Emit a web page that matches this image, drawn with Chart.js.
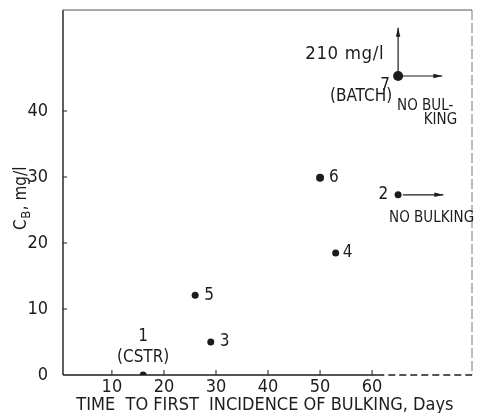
<!DOCTYPE html>
<html><head><meta charset="utf-8">
<script src="https://cdn.jsdelivr.net/npm/chart.js@4"></script>
<style>html,body{margin:0;padding:0;background:#fff}canvas{display:block}</style>
</head><body>
<canvas id="c" width="478" height="413"></canvas>
<script>
// ---- data ----
const runLabels = ['1', '2', '3', '4', '5', '6', '7'];
const days = [16, 65, 29, 53, 26, 50, 65];          // time to first incidence of bulking
const cbValues = [0, 27.3, 5, 18.5, 12.1, 29.9, 45.3]; // C_B, mg/l
const xTickValues = [10, 20, 30, 40, 50, 60];
const yTickValues = [0, 10, 20, 30, 40];
const arrow7Right = [{x: 65, y: 45.3}, {x: 73.5, y: 45.3}];
const arrow7Up = [{x: 65, y: 45.3}, {x: 65, y: 52.6}];
const arrow2Right = [{x: 65.9, y: 27.3}, {x: 73.7, y: 27.3}];
const noteTexts = {
  cstr: '(CSTR)', batch: '(BATCH)', conc7: '210 mg/l',
  noBulk2: 'NO BULKING', noBulk7a: 'NO BUL-', noBulk7b: 'KING'
};
const xTitle = 'TIME  TO FIRST  INCIDENCE OF BULKING, Days ';

const FONT = "'Liberation Sans Narrow', 'DejaVu Sans Condensed', sans-serif";
const INK = '#1c1c1c';

const points = days.map((d, i) => ({x: d, y: cbValues[i]}));

// label placement (pixel offsets from the point) – styling only
const labelStyle = [
  [{t: runLabels[0], dx: 0, dy: -38, a: 'center'}, {t: noteTexts.cstr, dx: 0, dy: -17, a: 'center'}],
  [{t: runLabels[1], dx: -10, dy: 0, a: 'right'}, {t: noteTexts.noBulk2, dx: -9, dy: 23, a: 'left', s: 15}],
  [{t: runLabels[2], dx: 9, dy: 0, a: 'left'}],
  [{t: runLabels[3], dx: 7, dy: 0, a: 'left'}],
  [{t: runLabels[4], dx: 9, dy: 0, a: 'left'}],
  [{t: runLabels[5], dx: 9, dy: 0, a: 'left'}],
  [{t: noteTexts.conc7, dx: -14, dy: -22, a: 'right', s: 18.5, ls: '0.6px'}, {t: runLabels[6], dx: -13, dy: 10, a: 'center'},
   {t: noteTexts.batch, dx: -6, dy: 21, a: 'right'}, {t: noteTexts.noBulk7a, dx: -1, dy: 30, a: 'left', s: 15},
   {t: noteTexts.noBulk7b, dx: 59, dy: 44, a: 'right', s: 15}]
];

const decor = {
  id: 'decor',
  afterDatasetsDraw(chart) {
    const {ctx, chartArea: ca, scales: {x, y}} = chart;
    ctx.save();
    ctx.strokeStyle = INK;
    // frame
    ctx.lineWidth = 1.4;
    ctx.beginPath(); ctx.moveTo(ca.left, ca.top); ctx.lineTo(ca.left, ca.bottom); ctx.stroke();
    const x60 = x.getPixelForValue(61);
    ctx.beginPath(); ctx.moveTo(ca.left, ca.bottom); ctx.lineTo(x60, ca.bottom); ctx.stroke();
    ctx.setLineDash([7, 4]);
    ctx.beginPath(); ctx.moveTo(x60, ca.bottom); ctx.lineTo(ca.right, ca.bottom); ctx.stroke();
    ctx.lineWidth = 0.8; ctx.strokeStyle = '#555';
    ctx.setLineDash([10, 3]);
    ctx.beginPath(); ctx.moveTo(ca.right, ca.top); ctx.lineTo(ca.right, ca.bottom); ctx.stroke();
    ctx.setLineDash([]);
    ctx.lineWidth = 1;
    ctx.beginPath(); ctx.moveTo(ca.left, ca.top); ctx.lineTo(ca.right, ca.top); ctx.stroke();
    // inside ticks
    ctx.strokeStyle = INK; ctx.lineWidth = 1;
    xTickValues.forEach(v => {
      const px = x.getPixelForValue(v);
      ctx.beginPath(); ctx.moveTo(px, ca.bottom); ctx.lineTo(px, ca.bottom - 5); ctx.stroke();
    });
    yTickValues.forEach(v => {
      if (v === 0) return;
      const py = y.getPixelForValue(v);
      ctx.beginPath(); ctx.moveTo(ca.left, py); ctx.lineTo(ca.left + 4, py); ctx.stroke();
    });
    // arrowheads at the end of each arrow dataset
    ctx.fillStyle = INK;
    chart.data.datasets.forEach((ds, i) => {
      if (!ds.isArrow) return;
      const meta = chart.getDatasetMeta(i);
      const p0 = meta.data[0], p1 = meta.data[1];
      const ang = Math.atan2(p1.y - p0.y, p1.x - p0.x);
      ctx.save(); ctx.translate(p1.x, p1.y); ctx.rotate(ang);
      ctx.beginPath(); ctx.moveTo(0, 0); ctx.lineTo(-9, -2.2); ctx.lineTo(-9, 2.2); ctx.closePath(); ctx.fill();
      ctx.restore();
    });
    // point labels
    const meta0 = chart.getDatasetMeta(0);
    ctx.fillStyle = INK; ctx.textBaseline = 'middle';
    labelStyle.forEach((list, i) => {
      const el = meta0.data[i];
      list.forEach(l => {
        ctx.font = (l.s || 17) + 'px ' + FONT;
        ctx.letterSpacing = l.ls || '0px';
        ctx.textAlign = l.a;
        ctx.fillText(l.t, el.x + l.dx, el.y + l.dy);
      });
    });
    ctx.letterSpacing = '0px';
    // y axis title with subscript
    ctx.save();
    ctx.translate(22, 230);
    ctx.rotate(-Math.PI / 2);
    ctx.textAlign = 'left'; ctx.textBaseline = 'middle';
    ctx.font = '17px ' + FONT;
    ctx.fillText('C', 0, 0);
    let w = ctx.measureText('C').width;
    ctx.font = '13px ' + FONT;
    ctx.fillText('B', w + 0.5, 5);
    w += ctx.measureText('B').width + 1;
    ctx.font = '17px ' + FONT;
    ctx.fillText(', mg/l', w, 0);
    ctx.restore();
    ctx.restore();
  }
};

new Chart(document.getElementById('c'), {
  type: 'scatter',
  data: {
    datasets: [
      {data: points, pointRadius: [3.5, 3.5, 3.5, 3.5, 3.5, 4, 5], pointBackgroundColor: INK, pointBorderWidth: 0, showLine: false},
      {data: arrow7Right, isArrow: true, showLine: true, borderColor: INK, borderWidth: 1.2, pointRadius: 0},
      {data: arrow7Up, isArrow: true, showLine: true, borderColor: INK, borderWidth: 1.2, pointRadius: 0},
      {data: arrow2Right, isArrow: true, showLine: true, borderColor: INK, borderWidth: 1.2, pointRadius: 0}
    ]
  },
  options: {
    responsive: false,
    animation: false,
    events: [],
    layout: {padding: {left: 0, top: 10, right: 6, bottom: 0}},
    plugins: {legend: {display: false}, tooltip: {enabled: false}},
    scales: {
      x: {
        type: 'linear', min: 0.6, max: 79.2,
        afterBuildTicks: s => { s.ticks = xTickValues.map(v => ({value: v})); },
        afterFit: s => { s.height = 38; s.paddingLeft = 0; s.paddingRight = 0; },
        grid: {display: false, drawTicks: false}, border: {display: false},
        ticks: {color: INK, padding: 2, font: {family: FONT, size: 18}, maxRotation: 0, autoSkip: false},
        title: {display: true, text: xTitle, color: INK, padding: {top: 0, bottom: -1}, font: {family: FONT, size: 18, lineHeight: 1}}
      },
      y: {
        type: 'linear', min: 0, max: 55.3,
        afterBuildTicks: s => { s.ticks = yTickValues.map(v => ({value: v})); },
        afterFit: s => { s.width = 63; s.paddingTop = 0; s.paddingBottom = 0; },
        grid: {display: false, drawTicks: false}, border: {display: false},
        ticks: {color: INK, padding: 15, font: {family: FONT, size: 18}, autoSkip: false}
      }
    }
  },
  plugins: [decor]
});
</script>
</body></html>
